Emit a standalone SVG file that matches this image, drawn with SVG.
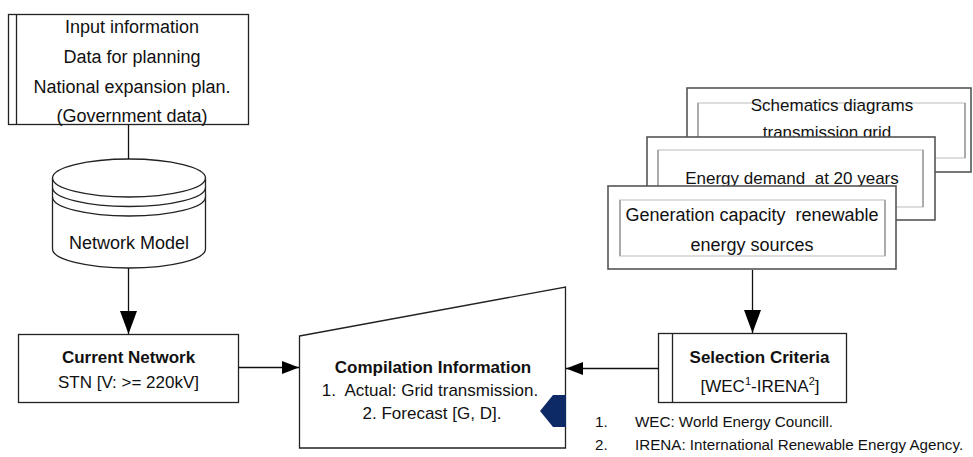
<svg xmlns="http://www.w3.org/2000/svg" width="973" height="457" viewBox="0 0 973 457">
  <style>
    text { font-family: "Liberation Sans", Arial, sans-serif; fill: #111; }
    .box { fill: #fff; stroke: #222; stroke-width: 1.3; }
    .bar { stroke: #222; stroke-width: 1.3; fill: none; }
    .t18 { font-size: 18px; }
    .t17 { font-size: 17px; }
    .b { font-weight: bold; }
    .card { fill: #fff; stroke: #555; stroke-width: 1.6; }
    .inner { fill: none; stroke: #d2d2d2; stroke-width: 1.5; }
    .innerv { stroke: #9a9a9a; stroke-width: 1.5; }
    .conn { stroke: #111; stroke-width: 1.3; fill: none; }
    .foot { font-size: 15.2px; }
  </style>
  <defs>
    <marker id="arrV" markerUnits="userSpaceOnUse" markerWidth="23" markerHeight="17" refX="23" refY="8.5" orient="auto">
      <path d="M0,0 L23,8.5 L0,17 z" fill="#000"/>
    </marker>
    <marker id="arrH" markerUnits="userSpaceOnUse" markerWidth="17" markerHeight="13" refX="17" refY="6.5" orient="auto">
      <path d="M0,0 L17,6.5 L0,13 z" fill="#000"/>
    </marker>
  </defs>

  <g id="input-information">
    <rect class="box" x="8.5" y="14.5" width="240" height="110"/>
    <line class="bar" x1="16.5" y1="14.5" x2="16.5" y2="124.5"/>
    <text class="t18" x="132" y="33" text-anchor="middle">Input information</text>
    <text class="t18" x="132" y="63" text-anchor="middle">Data for planning</text>
    <text class="t18" x="132" y="93" text-anchor="middle">National expansion plan.</text>
    <text class="t18" x="132" y="122" text-anchor="middle">(Government data)</text>
  </g>

  <g id="network-model">
    <path class="box" d="M52.5,178 L52.5,249 A76.5,19 0 0 0 205.5,249 L205.5,178 A76.5,19 0 0 0 52.5,178 z"/>
    <path class="bar" d="M52.5,178 A76.5,19 0 0 0 205.5,178"/>
    <path class="bar" d="M52.5,187.5 A76.5,19 0 0 0 205.5,187.5"/>
    <path class="bar" d="M52.5,197 A76.5,19 0 0 0 205.5,197"/>
    <text class="t18" x="129" y="249" text-anchor="middle">Network Model</text>
  </g>

  <g id="current-network">
    <rect class="box" x="18.5" y="334.5" width="220" height="68"/>
    <text class="t17 b" x="128.5" y="363" text-anchor="middle">Current Network</text>
    <text class="t17" x="128.5" y="388" text-anchor="middle">STN [V: &gt;= 220kV]</text>
  </g>

  <g id="compilation-information">
    <path class="box" d="M299.5,336 L565.5,287 L565.5,448 L299.5,448 z"/>
    <text class="t17 b" x="433" y="373" text-anchor="middle">Compilation Information</text>
    <text class="t17" x="430" y="396" text-anchor="middle" xml:space="preserve">1.  Actual: Grid transmission.</text>
    <text class="t17" x="432" y="419" text-anchor="middle">2. Forecast [G, D].</text>
    <path d="M553,395 L566,395 L566,427 L553,427 L540,411 z" fill="#0e2a66"/>
  </g>

  <g id="schematics-diagrams">
    <rect class="card" x="687" y="88" width="284" height="84"/>
    <rect class="inner" x="698" y="103" width="267" height="55"/>
    <line class="innerv" x1="698" y1="103" x2="698" y2="158"/>
    <line class="innerv" x1="965" y1="103" x2="965" y2="158"/>
    <text class="t17" x="832" y="111" text-anchor="middle">Schematics diagrams</text>
    <text class="t17" x="827" y="138" text-anchor="middle">transmission grid</text>
  </g>

  <g id="energy-demand">
    <rect class="card" x="647" y="137" width="288" height="83"/>
    <rect class="inner" x="658" y="150" width="265" height="57"/>
    <line class="innerv" x1="658" y1="150" x2="658" y2="207"/>
    <line class="innerv" x1="923" y1="150" x2="923" y2="207"/>
    <text class="t17" x="792" y="184" text-anchor="middle" xml:space="preserve">Energy demand  at 20 years</text>
  </g>

  <g id="generation-capacity">
    <rect class="card" x="608" y="186" width="288" height="83"/>
    <rect class="inner" x="620" y="200" width="265" height="56"/>
    <line class="innerv" x1="620" y1="200" x2="620" y2="256"/>
    <line class="innerv" x1="885" y1="200" x2="885" y2="256"/>
    <text class="t18" x="752" y="221" text-anchor="middle" xml:space="preserve">Generation capacity  renewable</text>
    <text class="t18" x="752" y="251" text-anchor="middle">energy sources</text>
  </g>

  <g id="selection-criteria">
    <rect class="box" x="658.5" y="333.5" width="188" height="69"/>
    <line class="bar" x1="672.5" y1="333.5" x2="672.5" y2="402.5"/>
    <text class="t17 b" x="759.5" y="363" text-anchor="middle">Selection Criteria</text>
    <text class="t17" x="760" y="392" text-anchor="middle">[WEC<tspan dy="-7" font-size="11">1</tspan><tspan dy="7">-IRENA</tspan><tspan dy="-7" font-size="11">2</tspan><tspan dy="7">]</tspan></text>
  </g>

  <g id="footnotes">
    <text class="foot" x="595" y="427">1.</text>
    <text class="foot" x="635" y="427">WEC: World Energy Councill.</text>
    <text class="foot" x="595" y="450">2.</text>
    <text class="foot" x="635" y="450">IRENA: International Renewable Energy Agency.</text>
  </g>

  <g id="connectors">
    <line class="conn" x1="128.5" y1="124.5" x2="128.5" y2="159"/>
    <line class="conn" x1="128.5" y1="268" x2="128.5" y2="334" marker-end="url(#arrV)"/>
    <line class="conn" x1="238.5" y1="367.5" x2="299" y2="367.5" marker-end="url(#arrH)"/>
    <line class="conn" x1="658.5" y1="368.5" x2="566" y2="368.5" marker-end="url(#arrH)"/>
    <line class="conn" x1="752.5" y1="270" x2="752.5" y2="333" marker-end="url(#arrV)"/>
  </g>
</svg>
